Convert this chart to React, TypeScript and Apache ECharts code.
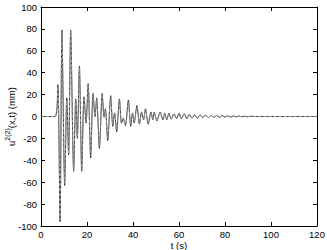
import React, { useEffect, useRef } from "react";
import * as echarts from "echarts";

const times = [
  0, 6.1, 7.3, 8.3, 9.1, 10.3, 11.2, 12.0, 12.9, 14.2, 15.1, 15.8, 16.7, 17.7, 18.7, 19.6,
  20.5, 21.6, 22.6, 23.5, 24.2, 25.4, 26.6, 27.4, 28.0, 29.0, 30.3, 31.2, 32.0, 32.9,
  34.1, 35.0, 35.8, 36.7, 38.0, 39.0, 39.8, 40.5, 41.7, 42.8, 43.7, 44.6, 45.4, 46.6,
  47.8, 48.6, 49.2, 50.4, 51.8, 53.0, 53.8, 54.7, 55.6, 56.6, 57.8, 59.0, 60.0, 61.0,
  62.3, 63.4, 64.5, 65.6, 66.8, 68.0, 69.2, 70.4, 71.6, 72.8, 74.0, 75.2, 76.4, 77.6,
  78.8, 80.0, 81.2, 82.4, 83.6, 84.8, 86.0, 87.2, 88.4, 89.6, 91.0, 93.0, 120,
];

const solidValues = [
  0, 0, 29, -96, 79, -63, 17, -35, 79, -50, 16, -20, 46, -50, 18, -6,
  30, -38, 21, 0, 17, -29, 21, 0, 7, -22, 19, -9, 3, -14,
  16, -6, -2, -8, 15, -9, 3, -6, 10, -7, 4, -3, 7, -7,
  4, -3, 4, -4, 4, -3, 3, -3, 3, -2.5, 2.5, -2, 3, -2,
  2.5, -2, 2, -1.5, 1.5, -1.5, 1.5, -1, 1.2, -1, 1, -0.8, 1, -0.8,
  0.8, -0.6, 0.6, -0.5, 0.5, -0.4, 0.4, -0.3, 0.3, -0.2, 0.2, 0, 0,
];

const dashedValues = [
  0, 0, 27, -94, 78, -61, 15, -34, 78, -49, 15, -19, 45, -49, 17, -5,
  29, -36, 20, 1, 16, -27, 20, -1, 6, -20, 18, -7, 4, -12,
  15, -4, -1, -9, 13, -7, 4, -5, 9, -6, 5, -2, 6, -6,
  3, -2, 4, -3, 3, -2, 2.5, -2.5, 2.5, -2, 2, -2, 2.5, -1.5,
  2, -1.5, 1.5, -1.2, 1.2, -1.2, 1.2, -0.8, 1, -0.8, 0.8, -0.6, 0.8, -0.6,
  0.6, -0.5, 0.5, -0.4, 0.4, -0.3, 0.3, -0.2, 0.2, -0.1, 0.1, 0, 0,
];

const FONT = "Liberation Sans";

export default function App() {
  const ref = useRef<HTMLDivElement>(null);
  useEffect(() => {
    if (!ref.current) return;
    const chart = echarts.init(ref.current, null, { renderer: "svg" });
    const solid = times.map((t, i) => [t, solidValues[i]]);
    const dashed = times.map((t, i) => [t, dashedValues[i]]);
    const axisCommon = {
      axisLine: { show: true, onZero: false, lineStyle: { color: "#000", width: 1 } },
      axisTick: { show: true, inside: true, length: 4, lineStyle: { color: "#000" } },
      splitLine: { show: false },
    };
    chart.setOption({
      animation: false,
      backgroundColor: "#fff",
      grid: { left: 41, right: 10, top: 7, bottom: 24, containLabel: false, outerBoundsMode: "none" },
      xAxis: [
        {
          type: "value",
          min: 0,
          max: 120,
          interval: 20,
          position: "bottom",
          ...axisCommon,
          axisLabel: { color: "#000", fontSize: 9.5, fontFamily: FONT, margin: 3 },
          name: "t (s)",
          nameLocation: "middle",
          nameGap: 14,
          nameMoveOverlap: false,
          nameTextStyle: { color: "#000", fontSize: 9.5, fontFamily: FONT },
        },
        {
          type: "value",
          min: 0,
          max: 120,
          interval: 20,
          position: "top",
          ...axisCommon,
          axisLabel: { show: false },
        },
      ],
      yAxis: [
        {
          type: "value",
          min: -100,
          max: 100,
          interval: 20,
          position: "left",
          ...axisCommon,
          axisLabel: { color: "#000", fontSize: 9.5, fontFamily: FONT, margin: 4 },
          name: "{a|u}{b|2(2)}{a|(x,t) (mm)}",
          nameLocation: "middle",
          nameGap: 25,
          nameMoveOverlap: false,
          nameTextStyle: {
            color: "#000",
            fontSize: 9.5,
            fontFamily: FONT,
            rich: {
              a: { fontSize: 9.5, fontFamily: FONT, color: "#000", verticalAlign: "bottom", lineHeight: 12 },
              b: { fontSize: 7, fontFamily: FONT, color: "#000", verticalAlign: "top", lineHeight: 12 },
            },
          },
        },
        {
          type: "value",
          min: -100,
          max: 100,
          interval: 20,
          position: "right",
          ...axisCommon,
          axisLabel: { show: false },
        },
      ],
      series: [
        {
          type: "line",
          data: solid,
          showSymbol: false,
          symbol: "none",
          smooth: 0.25,
          lineStyle: { color: "#333", width: 1 },
          z: 3,
        },
        {
          type: "line",
          data: dashed,
          showSymbol: false,
          symbol: "none",
          smooth: 0.25,
          lineStyle: { color: "#999", width: 1, type: [3, 2] },
          z: 4,
        },
      ],
    });
    return () => chart.dispose();
  }, []);
  return <div ref={ref} style={{ width: 327, height: 250, position: "absolute", left: 0, top: 0 }} />;
}
